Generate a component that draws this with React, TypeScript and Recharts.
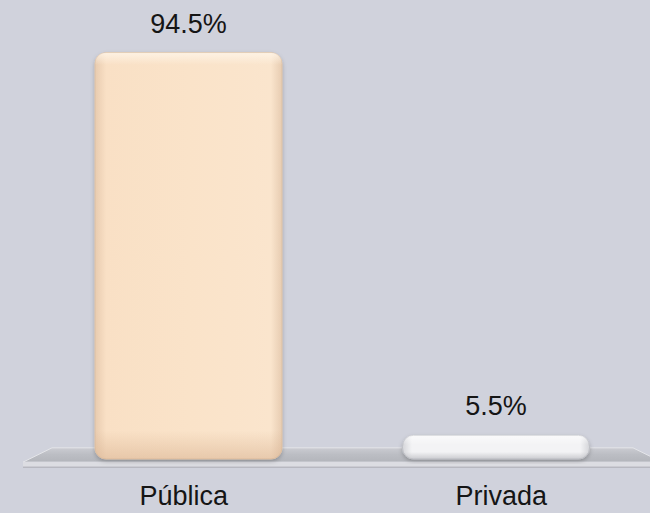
import React from 'react';
import { BarChart, Bar, XAxis, YAxis, Cell, LabelList, ReferenceArea } from 'recharts';

const categories = ['Pública', 'Privada'];
const shares = [94.5, 5.5];
const valueLabels = ['94.5%', '5.5%'];

const data = categories.map((c, i) => ({ name: c, value: shares[i], label: valueLabels[i] }));

const sideGrad = ['pubSide', 'privSide'];
const vertGrad = ['pubVert', 'privVert'];
const edgeColor = ['#dcc0a4', '#bfc0c6'];
const tickShift = [-5, 5];

const FONT = '"Liberation Sans", Arial, sans-serif';

const Floor = (props: any) => {
  const { x, y, width, height } = props;
  const inset = 17;
  const out = 12;
  const front = 5;
  const topPts = `${x + inset},${y} ${x + width - inset},${y} ${x + width + out},${y + height - front} ${x - out},${y + height - front}`;
  return (
    <g>
      <polygon points={topPts} fill="url(#floorTop)" stroke="#e4e5e9" strokeWidth={1} />
      <rect x={x - out} y={y + height - front} width={width + 2 * out} height={front} fill="#dcdde2" />
      <line x1={x - out} y1={y + height} x2={x + width + out} y2={y + height} stroke="#a9abb2" strokeWidth={1} />
    </g>
  );
};

const GlossBar = (props: any) => {
  const { x, y, width, height, index } = props;
  if (!height || height <= 0) return null;
  const r = Math.min(11, height / 2);
  return (
    <g filter="url(#barShadow)">
      <rect x={x} y={y} width={width} height={height} rx={r} ry={r} fill={`url(#${sideGrad[index]})`} stroke={edgeColor[index]} strokeWidth={1} />
      <rect x={x} y={y} width={width} height={height} rx={r} ry={r} fill={`url(#${vertGrad[index]})`} />
    </g>
  );
};

const Tick = (props: any) => {
  const { x, y, payload, index } = props;
  return (
    <text x={x + (tickShift[index] || 0)} y={y + 46} textAnchor="middle" fontFamily={FONT} fontSize={27} fill="#151515">
      {payload.value}
    </text>
  );
};

export default function App() {
  return (
    <div style={{ position: 'absolute', left: 0, top: 0, width: 650, height: 513, background: '#d0d2dc' }}>
      <BarChart width={650} height={513} data={data} margin={{ top: 29, right: 0, left: 35, bottom: 0 }}>
        <defs>
          <linearGradient id="floorTop" x1="0" y1="0" x2="0" y2="1">
            <stop offset="0%" stopColor="#cbccd2" />
            <stop offset="45%" stopColor="#bcbec4" />
            <stop offset="100%" stopColor="#b3b5bb" />
          </linearGradient>
          <linearGradient id="pubSide" x1="0" y1="0" x2="1" y2="0">
            <stop offset="0%" stopColor="#e8cbaf" />
            <stop offset="6%" stopColor="#f9e0c5" />
            <stop offset="50%" stopColor="#fae3c9" />
            <stop offset="94%" stopColor="#fae5cd" />
            <stop offset="100%" stopColor="#e7ccb1" />
          </linearGradient>
          <linearGradient id="pubVert" x1="0" y1="0" x2="0" y2="1">
            <stop offset="0%" stopColor="#fff6ea" stopOpacity={0.8} />
            <stop offset="3%" stopColor="#fff6ea" stopOpacity={0} />
            <stop offset="93%" stopColor="#d9b392" stopOpacity={0} />
            <stop offset="100%" stopColor="#d9b392" stopOpacity={0.55} />
          </linearGradient>
          <linearGradient id="privSide" x1="0" y1="0" x2="1" y2="0">
            <stop offset="0%" stopColor="#d4d5d9" />
            <stop offset="5%" stopColor="#f3f3f5" />
            <stop offset="95%" stopColor="#f3f3f5" />
            <stop offset="100%" stopColor="#d4d5d9" />
          </linearGradient>
          <linearGradient id="privVert" x1="0" y1="0" x2="0" y2="1">
            <stop offset="0%" stopColor="#ffffff" stopOpacity={0.6} />
            <stop offset="40%" stopColor="#ffffff" stopOpacity={0} />
            <stop offset="70%" stopColor="#b9babf" stopOpacity={0} />
            <stop offset="100%" stopColor="#b9babf" stopOpacity={0.7} />
          </linearGradient>
          <filter id="barShadow" x="-10%" y="-10%" width="120%" height="130%">
            <feDropShadow dx="0" dy="2" stdDeviation="2" floodColor="#000" floodOpacity="0.22" />
          </filter>
        </defs>
        <XAxis dataKey="name" axisLine={false} tickLine={false} tickSize={0} tickMargin={0} height={54} tick={<Tick />} interval={0} />
        <YAxis hide domain={[0, 100]} />
        <ReferenceArea y1={-1.9} y2={2.6} ifOverflow="visible" shape={<Floor />} />
        <Bar dataKey="value" barSize={187} isAnimationActive={false} shape={<GlossBar />}>
          {data.map((d, i) => (
            <Cell key={d.name} fill={edgeColor[i]} />
          ))}
          <LabelList dataKey="label" position="top" offset={20} fontFamily={FONT} fontSize={27} fill="#151515" />
        </Bar>
      </BarChart>
    </div>
  );
}
